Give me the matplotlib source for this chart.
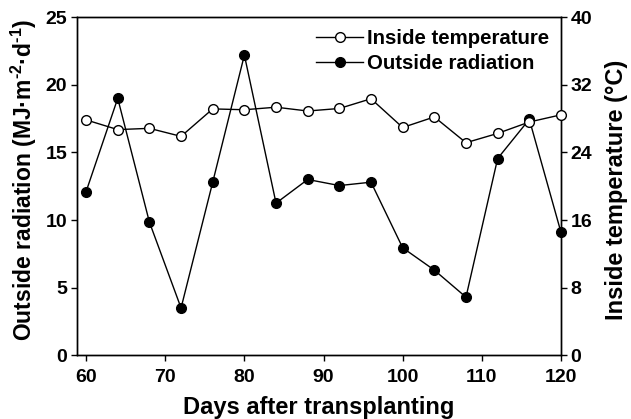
import matplotlib
matplotlib.use("Agg")
import matplotlib.pyplot as plt

days = [60, 64, 68, 72, 76, 80, 84, 88, 92, 96, 100, 104, 108, 112, 116, 120]
radiation = [12.1, 19.0, 9.85, 3.5, 12.8, 22.2, 11.25, 13.0, 12.55, 12.8,
             7.95, 6.3, 4.3, 14.55, 17.45, 9.1]
temperature = [27.85, 26.7, 26.85, 25.9, 29.15, 29.05, 29.35, 28.9, 29.2, 30.35,
               26.95, 28.2, 25.15, 26.25, 27.6, 28.45]

plt.rcParams["font.family"] = ["Liberation Sans", "DejaVu Sans"]
plt.rcParams["font.weight"] = "bold"
plt.rcParams["mathtext.fontset"] = "custom"
plt.rcParams["mathtext.rm"] = "Liberation Sans:bold"
plt.rcParams["mathtext.bf"] = "Liberation Sans:bold"
plt.rcParams["mathtext.it"] = "Liberation Sans:bold"

fig, ax = plt.subplots(figsize=(6.31, 4.19), dpi=100)
fig.subplots_adjust(left=0.122, right=0.889, top=0.959, bottom=0.152)
ax2 = ax.twinx()

l_rad, = ax.plot(days, radiation, color="black", lw=1.0, marker="o", ms=7,
                 mfc="black", mec="black", clip_on=False, zorder=3)
l_tmp, = ax2.plot(days, temperature, color="black", lw=1.0, marker="o", ms=7,
                  mfc="white", mec="black", mew=1.0, clip_on=False, zorder=3)

ax.set_xlim(58.85, 120)
ax.set_ylim(0, 25)
ax2.set_ylim(0, 40)
ax.set_xticks(range(60, 121, 10))
ax.set_yticks(range(0, 26, 5))
ax2.set_yticks(range(0, 41, 8))

for a in (ax, ax2):
    a.tick_params(direction="out", length=4, width=1, labelsize=14, pad=3)
    for s in a.spines.values():
        s.set_linewidth(1.0)
ax.tick_params(axis="x", pad=6)
for lab in ax.get_xticklabels() + ax.get_yticklabels() + ax2.get_yticklabels():
    lab.set_fontweight("bold")

ax.set_xlabel("Days after transplanting", fontsize=17, fontweight="bold", labelpad=7)
ax.set_ylabel(r"Outside radiation (MJ·m$^{\text{-2}}$·d$^{\text{-1}}$)",
              fontsize=16.5, fontweight="bold", labelpad=5)
ax.yaxis.label.set_y(0.518)
ax2.set_ylabel("Inside temperature (°C)", fontsize=17, fontweight="bold", labelpad=9)
ax2.yaxis.label.set_y(0.49)

ax2.legend([l_tmp, l_rad], ["Inside temperature", "Outside radiation"],
           loc="upper left", bbox_to_anchor=(0.494, 0.966), frameon=False,
           prop={"size": 14.7, "weight": "bold"}, handlelength=2.3,
           handletextpad=0.2, labelspacing=0.3, borderpad=0, borderaxespad=0)

fig.savefig("out.png", dpi=100)
